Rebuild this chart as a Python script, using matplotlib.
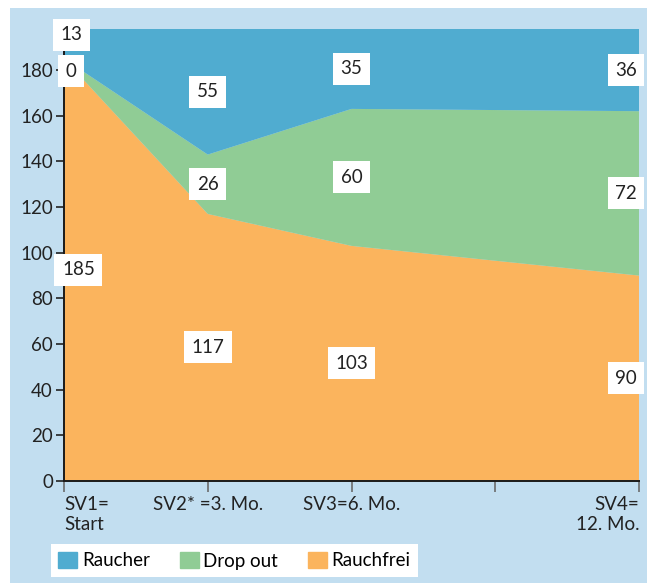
import numpy as np
import matplotlib.pyplot as plt
from matplotlib.patches import Rectangle

plt.rcParams['font.family'] = ['Lato', 'DejaVu Sans']

# data
x = [0, 1, 2, 4]
rauchfrei = [185, 117, 103, 90]
drop_out = [0, 26, 60, 72]
raucher = [13, 55, 35, 36]
tick_pos = [0, 1, 2, 3, 4]
tick_labels = ['SV1=\nStart', 'SV2* =3. Mo.', 'SV3=6. Mo.', '', 'SV4=\n12. Mo.']
series_names = ['Raucher', 'Drop out', 'Rauchfrei']

c_blue = '#50acd0'
c_green = '#90cc95'
c_orange = '#fbb45d'
c_bg = '#c2def0'

fig = plt.figure(figsize=(6.51, 5.86), dpi=100, facecolor='white')
fig.patches.append(Rectangle((10 / 651, 3 / 586), 637 / 651, 575 / 586,
                             transform=fig.transFigure, facecolor=c_bg,
                             edgecolor='none', zorder=-10))

ax = fig.add_axes([64 / 651, 1 - 481 / 586, 575 / 651, 452 / 586])
ax.set_facecolor(c_bg)
ax.stackplot(x, rauchfrei, drop_out, raucher,
             colors=[c_orange, c_green, c_blue], linewidth=0)

ax.set_xlim(0, 4)
ax.set_ylim(0, 198)
ax.set_yticks(range(0, 181, 20))
ax.set_xticks(tick_pos)
ax.set_xticklabels(tick_labels)
labels = ax.get_xticklabels()
labels[0].set_ha('left')
labels[4].set_ha('right')
labels[4].set_multialignment('right')

for s in ['top', 'right']:
    ax.spines[s].set_visible(False)
for s in ['left', 'bottom']:
    ax.spines[s].set_linewidth(1.4)
    ax.spines[s].set_color('#1a1a1a')
ax.tick_params(axis='y', direction='out', length=6, width=1.2, labelsize=13.5,
               colors='#222222', pad=2)
ax.tick_params(axis='x', direction='out', length=8, width=1.2, labelsize=13.5,
               color='#6b6b6b', labelcolor='#222222', pad=3)

# value labels in white boxes
bottoms = np.zeros(len(x))
boxes = dict(boxstyle='square,pad=0.4', facecolor='white', edgecolor='none')
for vals in [rauchfrei, drop_out, raucher]:
    for i, v in enumerate(vals):
        yy = bottoms[i] + v / 2
        xx = x[i]
        if i == 0:
            xx = 0.1
            if vals is drop_out:
                yy, xx = 179.5, 0.05
            elif vals is raucher:
                yy, xx = 195.5, 0.05
        if i == 3:
            xx = 3.91
        ax.text(xx, yy, str(v), ha='center', va='center', fontsize=13.5,
                color='#222222', bbox=boxes, zorder=5, clip_on=False)
    bottoms += np.array(vals)

handles = [Rectangle((0, 0), 1, 1, color=c) for c in [c_blue, c_green, c_orange]]
leg = fig.legend(handles, series_names, loc='lower left',
                 bbox_to_anchor=(51 / 651, 9 / 586), ncol=3, frameon=True,
                 fancybox=False, fontsize=13.5, handlelength=1.0,
                 handleheight=1.0, columnspacing=1.6, handletextpad=0.25,
                 borderpad=0.4, borderaxespad=0)
leg.get_frame().set_facecolor('white')
leg.get_frame().set_edgecolor('none')
leg.get_frame().set_alpha(1)

plt.savefig('out.png', dpi=100, facecolor='white')
